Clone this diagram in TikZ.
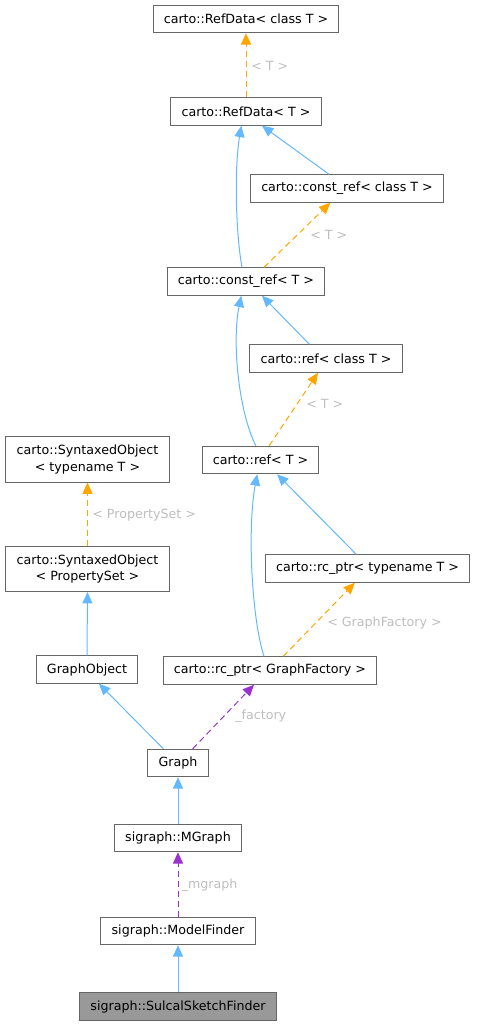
\documentclass[tikz,border=0pt]{standalone}
\usepackage{fontspec}
\setmainfont{DejaVu Sans}
\usetikzlibrary{arrows.meta,positioning}
\definecolor{inhblue}{RGB}{99,184,255}
\definecolor{tplorange}{RGB}{255,165,0}
\definecolor{usepurple}{RGB}{154,50,205}
\definecolor{boxgray}{RGB}{102,102,102}
\definecolor{lblgray}{RGB}{190,190,190}
\definecolor{curfill}{RGB}{153,153,153}
\tikzset{
  cls/.style={draw=boxgray, fill=white, line width=0.75pt, inner xsep=8pt, inner ysep=0pt,
              minimum height=20.6pt, font=\fontsize{9.5}{12.6}\selectfont},
  cls2/.style={cls, minimum height=33.8pt, align=center},
  curcls/.style={cls, fill=curfill},
  inh/.style={-{Triangle[length=8.5pt,width=7.5pt]}, inhblue, line width=0.75pt},
  tpl/.style={-{Triangle[length=8.5pt,width=7.5pt]}, tplorange, line width=0.75pt,
              dash pattern=on 4.5pt off 3pt},
  usg/.style={-{Triangle[length=8.5pt,width=7.5pt]}, usepurple, line width=0.75pt,
              dash pattern=on 4.5pt off 3pt},
  elab/.style={font=\fontsize{9.5}{11}\selectfont, text=lblgray, anchor=west, inner sep=0pt},
}

\begin{document}
\begin{tikzpicture}[x=0.75pt, y=-0.75pt]
    \useasboundingbox (0,0) rectangle (478,1026);
    % classes
    \node[cls] (rdclass) at (246,19) {carto::RefData< class T >};
    \node[cls] (rdata) at (246,111.5) {carto::RefData< T >};
    \node[cls] (crclass) at (347,188.5) {carto::const\_ref< class T >};
    \node[cls] (cref) at (246,281.5) {carto::const\_ref< T >};
    \node[cls] (rfclass) at (326,358.5) {carto::ref< class T >};
    \node[cls] (reft) at (260.5,460) {carto::ref< T >};
    \node[cls2] (soclass) at (87.5,459.5) {carto::SyntaxedObject\\< typename T >};
    \node[cls2] (soprop) at (87.5,569) {carto::SyntaxedObject\\< PropertySet >};
    \node[cls] (rctn) at (367.5,568.5) {carto::rc\_ptr< typename T >};
    \node[cls] (gobj) at (87,669.5) {GraphObject};
    \node[cls] (rcgf) at (270,670.5) {carto::rc\_ptr< GraphFactory >};
    \node[cls] (graph) at (178,763) {Graph};
    \node[cls] (mgraph) at (178,838) {sigraph::MGraph};
    \node[cls] (mfind) at (178,931) {sigraph::ModelFinder};
    \node[curcls] (ssf) at (178,1006.5) {sigraph::SulcalSketchFinder};
    % edges
    \draw[tpl] (rdata.north) -- (rdclass.south);
    \node[elab] (l1) at (251,65.5) {< T >};
    \draw[inh] ([xshift=-3pt]cref.north) .. controls (236,235) and (234,170) .. ([xshift=-3.5pt]rdata.south);
    \draw[inh] ([xshift=-13.5pt]crclass.north) -- ([xshift=12pt]rdata.south);
    \draw[tpl] ([xshift=13.5pt]cref.north) -- ([xshift=-12.5pt]crclass.south);
    \node[elab] (l2) at (310,235) {< T >};
    \draw[inh] ([xshift=-3.5pt]reft.north) .. controls (238,410) and (232,340) .. ([xshift=-3.5pt]cref.south);
    \draw[inh] ([xshift=-12.5pt]rfclass.north) -- ([xshift=12pt]cref.south);
    \draw[tpl] ([xshift=6.5pt]reft.north) -- ([xshift=-6pt]rfclass.south);
    \node[elab] (l3) at (306,404) {< T >};
    \draw[tpl] (soprop.north) -- (soclass.south);
    \node[elab] (l4) at (92,515) {< PropertySet >};
    \draw[inh] (gobj.north) -- (soprop.south);
    \draw[inh] ([xshift=-4.5pt]rcgf.north) .. controls (252,620) and (247,530) .. ([xshift=-2.5pt]reft.south);
    \draw[inh] ([xshift=-8.5pt]rctn.north) -- ([xshift=12.5pt]reft.south);
    \draw[tpl] ([xshift=10pt]rcgf.north) -- ([xshift=-9.5pt]rctn.south);
    \node[elab] (l5) at (327,623) {< GraphFactory >};
    \draw[inh] ([xshift=-11pt]graph.north) -- ([xshift=9pt]gobj.south);
    \draw[usg] ([xshift=11pt]graph.north) -- ([xshift=-12pt]rcgf.south);
    \node[elab] (l6) at (235,716.5) {\_factory};
    \draw[inh] (mgraph.north) -- (graph.south);
    \draw[usg] (mfind.north) -- (mgraph.south);
    \node[elab] (l7) at (181.5,885) {\_mgraph};
    \draw[inh] (ssf.north) -- (mfind.south);
  \end{tikzpicture}
\end{document}
